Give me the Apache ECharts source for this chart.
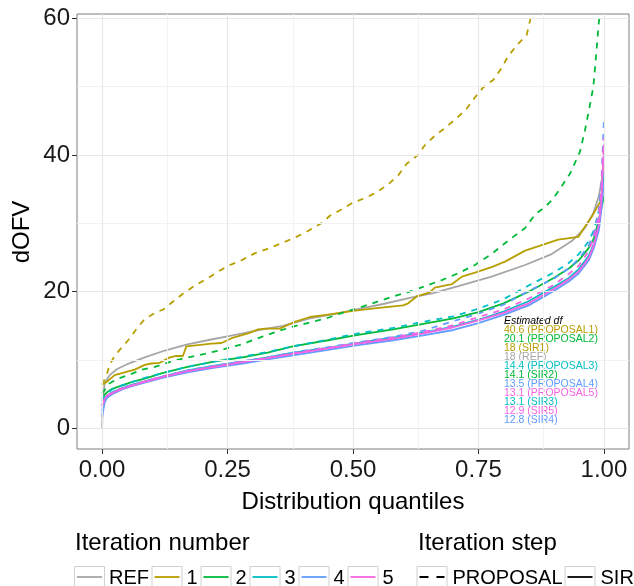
<!DOCTYPE html>
<html>
<head>
<meta charset="utf-8">
<script src="https://cdn.jsdelivr.net/npm/echarts@6/dist/echarts.min.js"></script>
<style>
  html, body { margin: 0; padding: 0; background: #ffffff; }
  #chart { width: 634px; height: 586px; }
</style>
</head>
<body>
<div id="chart"></div>
<script>
// Empirical dOFV quantile curves, [quantile, dOFV]
const refCurve = [[0,0],[0.002,4.6],[0.005,6.6],[0.015,7.8],[0.03,8.7],[0.05,9.4],[0.085,10.4],[0.125,11.4],[0.17,12.3],[0.21,12.9],[0.265,13.7],[0.32,14.5],[0.36,15.0],[0.414,16.1],[0.46,16.7],[0.5,17.3],[0.56,18.2],[0.62,19.2],[0.66,19.8],[0.71,20.8],[0.776,22.2],[0.843,23.9],[0.896,25.5],[0.936,27.4],[0.962,29.3],[0.979,31.5],[0.99,34.0],[0.996,36.5],[1,38.8]];

const proposal1 = [[0,6.4],[0.009,7.8],[0.015,9.3],[0.025,10.6],[0.035,11.5],[0.052,12.9],[0.069,14.6],[0.085,16.0],[0.108,17.0],[0.122,17.4],[0.142,18.6],[0.161,19.7],[0.185,20.9],[0.211,22.0],[0.235,23.1],[0.255,23.9],[0.278,24.6],[0.304,25.6],[0.331,26.3],[0.358,27.1],[0.384,27.9],[0.411,28.9],[0.437,30.0],[0.454,31.1],[0.474,31.9],[0.497,32.9],[0.524,33.7],[0.547,34.5],[0.570,35.7],[0.590,37.0],[0.607,38.7],[0.630,40.0],[0.643,41.4],[0.663,42.8],[0.683,43.9],[0.707,45.4],[0.726,46.7],[0.743,48.4],[0.760,49.9],[0.780,51.0],[0.796,52.7],[0.809,54.4],[0.827,56.1],[0.846,57.5],[0.853,59.7],[0.858,62.0]];

const sir1 = [[0,6.4],[0.009,6.8],[0.025,7.8],[0.045,8.2],[0.065,8.6],[0.085,9.3],[0.098,9.5],[0.115,9.6],[0.135,10.4],[0.148,10.6],[0.161,10.6],[0.168,12.0],[0.191,12.2],[0.218,12.4],[0.238,12.5],[0.258,13.2],[0.291,13.9],[0.311,14.5],[0.324,14.6],[0.354,14.6],[0.381,15.5],[0.414,16.3],[0.447,16.6],[0.5,17.2],[0.547,17.6],[0.6,18.0],[0.61,18.3],[0.627,19.3],[0.653,19.9],[0.663,20.6],[0.697,21.1],[0.717,22.2],[0.743,22.8],[0.776,23.6],[0.803,24.4],[0.843,26.0],[0.876,26.8],[0.909,27.6],[0.949,28.0],[0.962,29.5],[0.976,31.0],[0.99,32.8],[1,34.0]];

const proposal2 = [[0,5.1],[0.005,5.6],[0.015,6.6],[0.032,7.3],[0.052,7.8],[0.079,8.6],[0.105,9.0],[0.138,9.8],[0.171,10.4],[0.205,10.9],[0.238,11.5],[0.278,12.3],[0.318,13.4],[0.354,14.3],[0.381,14.9],[0.414,15.5],[0.447,16.1],[0.474,16.8],[0.514,17.7],[0.547,18.5],[0.58,19.3],[0.613,20.0],[0.643,20.8],[0.677,21.7],[0.71,22.7],[0.743,23.9],[0.776,25.5],[0.81,27.5],[0.843,29.3],[0.863,31.3],[0.883,32.4],[0.899,33.6],[0.912,35.0],[0.932,37.2],[0.952,40.4],[0.962,43.5],[0.972,47.2],[0.979,50.0],[0.985,55.0],[0.99,59.5],[1,64.0]];

const sir2 = [[0,4.3],[0.005,4.9],[0.01,5.3],[0.02,5.8],[0.04,6.3],[0.06,6.8],[0.085,7.3],[0.12,8.1],[0.17,9.0],[0.225,9.8],[0.28,10.4],[0.33,11.1],[0.38,12.0],[0.45,12.9],[0.51,13.7],[0.58,14.5],[0.64,15.3],[0.7,16.1],[0.75,17.0],[0.8,18.3],[0.85,20.0],[0.9,22.0],[0.93,23.4],[0.95,24.6],[0.97,26.4],[0.98,27.8],[0.99,30.5],[0.995,32.2],[1,33.9]];

const proposal3 = [[0,4.0],[0.005,4.8],[0.01,5.2],[0.02,5.7],[0.04,6.3],[0.06,6.8],[0.085,7.4],[0.12,8.1],[0.17,9.0],[0.225,9.8],[0.28,10.5],[0.33,11.2],[0.38,12.0],[0.45,13.0],[0.51,13.9],[0.58,14.7],[0.64,15.6],[0.7,16.4],[0.75,17.5],[0.8,18.9],[0.85,20.9],[0.9,22.8],[0.93,24.2],[0.95,25.5],[0.97,27.4],[0.98,29.0],[0.99,31.8],[0.995,35.0],[1,38.8]];

const sir3 = [[0,3.4],[0.005,4.3],[0.01,4.8],[0.02,5.3],[0.04,5.9],[0.06,6.4],[0.085,6.9],[0.12,7.6],[0.17,8.5],[0.225,9.2],[0.28,9.8],[0.33,10.4],[0.38,11.1],[0.45,11.8],[0.51,12.5],[0.58,13.3],[0.64,14.0],[0.7,14.9],[0.75,15.9],[0.8,17.1],[0.85,18.6],[0.9,20.7],[0.93,22.0],[0.95,23.3],[0.97,25.3],[0.98,27.0],[0.99,30.0],[0.995,33.0],[1,37.0]];

const proposal4 = [[0,2.6],[0.005,4.0],[0.01,4.6],[0.02,5.2],[0.04,5.9],[0.06,6.4],[0.085,6.9],[0.12,7.6],[0.17,8.5],[0.225,9.2],[0.28,9.8],[0.33,10.4],[0.38,11.1],[0.45,11.9],[0.51,12.6],[0.58,13.4],[0.64,14.3],[0.7,15.7],[0.75,16.8],[0.8,18.1],[0.85,20.1],[0.9,21.9],[0.93,23.4],[0.95,24.8],[0.97,26.8],[0.98,28.6],[0.99,32.0],[0.995,36.0],[1,45.1]];

const sir4 = [[0,1.7],[0.005,3.8],[0.01,4.5],[0.02,5.0],[0.04,5.7],[0.06,6.2],[0.085,6.7],[0.12,7.4],[0.17,8.2],[0.225,8.9],[0.28,9.5],[0.33,10.1],[0.38,10.7],[0.45,11.5],[0.51,12.2],[0.58,12.9],[0.64,13.6],[0.7,14.4],[0.75,15.4],[0.8,16.6],[0.85,18.0],[0.9,20.1],[0.93,21.5],[0.95,22.7],[0.97,24.6],[0.98,26.4],[0.99,29.0],[0.995,32.0],[1,36.0]];

const proposal5 = [[0,3.2],[0.005,4.2],[0.01,4.7],[0.02,5.2],[0.04,5.9],[0.06,6.3],[0.085,6.9],[0.12,7.6],[0.17,8.4],[0.225,9.1],[0.28,9.8],[0.33,10.3],[0.38,11.0],[0.45,11.8],[0.51,12.5],[0.58,13.3],[0.64,14.1],[0.7,15.1],[0.75,16.3],[0.8,17.4],[0.85,19.0],[0.9,21.0],[0.93,22.6],[0.95,23.8],[0.97,26.0],[0.98,28.0],[0.99,31.0],[0.995,35.0],[1,42.5]];

const sir5 = [[0,3.6],[0.005,4.3],[0.01,4.8],[0.02,5.2],[0.04,5.8],[0.06,6.3],[0.085,6.8],[0.12,7.5],[0.17,8.4],[0.225,9.0],[0.28,9.7],[0.33,10.3],[0.38,10.9],[0.45,11.7],[0.51,12.4],[0.58,13.1],[0.64,13.9],[0.7,14.8],[0.75,15.8],[0.8,16.9],[0.85,18.3],[0.9,20.4],[0.93,21.8],[0.95,23.0],[0.97,25.0],[0.98,26.8],[0.99,29.8],[0.995,33.5],[1,41.5]];

// Iteration levels and colours
const iterationLevels = ['REF', '1', '2', '3', '4', '5'];
const iterationColors = ['#A6A6A6', '#B79F00', '#00BA38', '#00BFC4', '#619CFF', '#F564E3'];
const stepLevels = ['PROPOSAL', 'SIR'];

// Estimated degrees of freedom annotation
const dfValues = ['40.6', '20.1', '18', '18', '14.4', '14.1', '13.5', '13.1', '13.1', '12.9', '12.8'];
const dfRuns   = ['PROPOSAL1', 'PROPOSAL2', 'SIR1', 'REF', 'PROPOSAL3', 'SIR2', 'PROPOSAL4', 'PROPOSAL5', 'SIR3', 'SIR5', 'SIR4'];
const dfIters  = ['1', '2', '1', 'REF', '3', '2', '4', '5', '3', '5', '4'];

// Axis ticks
const xTicks = [0, 0.25, 0.5, 0.75, 1];
const xMinor = [0.125, 0.375, 0.625, 0.875];
const yTicks = [0, 20, 40, 60];
const yMinor = [10, 30, 50];

const curves = [
  { iter: 'REF', step: 'SIR', data: refCurve },
  { iter: '1', step: 'PROPOSAL', data: proposal1 },
  { iter: '1', step: 'SIR', data: sir1 },
  { iter: '2', step: 'PROPOSAL', data: proposal2 },
  { iter: '2', step: 'SIR', data: sir2 },
  { iter: '3', step: 'PROPOSAL', data: proposal3 },
  { iter: '3', step: 'SIR', data: sir3 },
  { iter: '4', step: 'PROPOSAL', data: proposal4 },
  { iter: '4', step: 'SIR', data: sir4 },
  { iter: '5', step: 'PROPOSAL', data: proposal5 },
  { iter: '5', step: 'SIR', data: sir5 }
];

const colorOf = it => iterationColors[iterationLevels.indexOf(it)];
const FONT = '"Liberation Sans", Arial, Helvetica, sans-serif';
const DASH = [6, 6];

const chart = echarts.init(document.getElementById('chart'), null, { renderer: 'canvas' });

// Panel grid lines drawn as mark lines behind the curves
const minorStyle = { color: '#F2F2F2', width: 1, type: 'solid' };
const majorStyle = { color: '#E8E8E8', width: 1.2, type: 'solid' };
const gridLines = [];
xMinor.forEach(v => gridLines.push({ xAxis: v, lineStyle: minorStyle }));
yMinor.forEach(v => gridLines.push({ yAxis: v, lineStyle: minorStyle }));
xTicks.forEach(v => gridLines.push({ xAxis: v, lineStyle: majorStyle }));
yTicks.forEach(v => gridLines.push({ yAxis: v, lineStyle: majorStyle }));

const series = [{
  type: 'line',
  data: [[0, 0]],
  showSymbol: false,
  silent: true,
  z: 1,
  lineStyle: { opacity: 0 },
  markLine: {
    silent: true,
    symbol: ['none', 'none'],
    label: { show: false },
    animation: false,
    lineStyle: { type: 'solid' },
    data: gridLines
  }
}];

curves.forEach(c => {
  series.push({
    name: c.step + c.iter,
    type: 'line',
    data: c.data,
    showSymbol: false,
    silent: true,
    z: 3,
    clip: true,
    lineStyle: {
      color: colorOf(c.iter),
      width: 1.8,
      type: c.step === 'PROPOSAL' ? DASH : 'solid'
    }
  });
});

// Legend, titles and annotation text
const graphics = [];

graphics.push({
  type: 'text', x: 22, y: 232, rotation: Math.PI / 2,
  style: { text: 'dOFV', font: '24px ' + FONT, fill: '#000', align: 'center', verticalAlign: 'middle' }
});
graphics.push({
  type: 'text', x: 353, y: 502,
  style: { text: 'Distribution quantiles', font: '24px ' + FONT, fill: '#000', align: 'center', verticalAlign: 'middle' }
});

// Estimated df block
const dfX = 504, dfY0 = 321, dfStep = 9.0;
graphics.push({
  type: 'text', x: dfX, y: dfY0,
  style: { text: 'Estimated df', font: 'italic 10.5px ' + FONT, fill: '#000', align: 'left', verticalAlign: 'middle' }
});
dfValues.forEach((v, i) => {
  graphics.push({
    type: 'text', x: dfX, y: dfY0 + dfStep * (i + 1),
    style: { text: v + ' (' + dfRuns[i] + ')', font: '10.5px ' + FONT, fill: colorOf(dfIters[i]), align: 'left', verticalAlign: 'middle' }
  });
});

// Legend: iteration number
const legendTitleY = 543;
const keyTop = 566, keySize = 30, keyLineY = 577;
graphics.push({
  type: 'text', x: 75, y: legendTitleY,
  style: { text: 'Iteration number', font: '24px ' + FONT, fill: '#000', align: 'left', verticalAlign: 'middle' }
});
const iterKeyX = [74, 151.5, 200.5, 249.5, 298.5, 347.5];
iterationLevels.forEach((lvl, i) => {
  const x0 = iterKeyX[i];
  graphics.push({ type: 'rect', shape: { x: x0 + 0.5, y: keyTop + 0.5, width: keySize, height: keySize },
    style: { fill: '#fff', stroke: '#D0D0D0', lineWidth: 1 } });
  graphics.push({ type: 'line', shape: { x1: x0 + 3, y1: keyLineY, x2: x0 + keySize - 2, y2: keyLineY },
    style: { stroke: iterationColors[i], lineWidth: 1.8 } });
  graphics.push({ type: 'text', x: x0 + keySize + 5, y: keyLineY + 1,
    style: { text: lvl, font: '20px ' + FONT, fill: '#000', align: 'left', verticalAlign: 'middle' } });
});

// Legend: iteration step
graphics.push({
  type: 'text', x: 418, y: legendTitleY,
  style: { text: 'Iteration step', font: '24px ' + FONT, fill: '#000', align: 'left', verticalAlign: 'middle' }
});
const stepKeyX = [416.5, 564.5];
stepLevels.forEach((lvl, i) => {
  const x0 = stepKeyX[i];
  graphics.push({ type: 'rect', shape: { x: x0 + 0.5, y: keyTop + 0.5, width: keySize, height: keySize },
    style: { fill: '#fff', stroke: '#D0D0D0', lineWidth: 1 } });
  graphics.push({ type: 'line', shape: { x1: x0 + 3, y1: keyLineY, x2: x0 + keySize - 2, y2: keyLineY },
    style: { stroke: '#000', lineWidth: 1.8, lineDash: lvl === 'PROPOSAL' ? [9, 8] : null } });
  graphics.push({ type: 'text', x: x0 + keySize + 6, y: keyLineY + 1,
    style: { text: lvl, font: '20px ' + FONT, fill: '#000', align: 'left', verticalAlign: 'middle' } });
});

chart.setOption({
  animation: false,
  backgroundColor: '#ffffff',
  grid: {
    left: 77, top: 14, width: 552, height: 435,
    show: true, borderColor: '#7F7F7F', borderWidth: 1, backgroundColor: '#ffffff',
    containLabel: false
  },
  xAxis: {
    type: 'value', min: -0.05, max: 1.05,
    axisLine: { show: false, onZero: false },
    splitLine: { show: false },
    axisTick: { show: true, customValues: xTicks, length: 5, lineStyle: { color: '#333333', width: 1 } },
    axisLabel: {
      show: true, customValues: xTicks, margin: 9,
      formatter: v => v.toFixed(2),
      fontSize: 24, fontFamily: FONT, color: '#1A1A1A'
    }
  },
  yAxis: {
    type: 'value', min: -3, max: 60.6,
    axisLine: { show: false, onZero: false },
    splitLine: { show: false },
    axisTick: { show: true, customValues: yTicks, length: 5, lineStyle: { color: '#333333', width: 1 } },
    axisLabel: {
      show: true, customValues: yTicks, margin: 7,
      formatter: v => String(v),
      fontSize: 24, fontFamily: FONT, color: '#1A1A1A'
    }
  },
  series: series,
  graphic: graphics
});
</script>
</body>
</html>
